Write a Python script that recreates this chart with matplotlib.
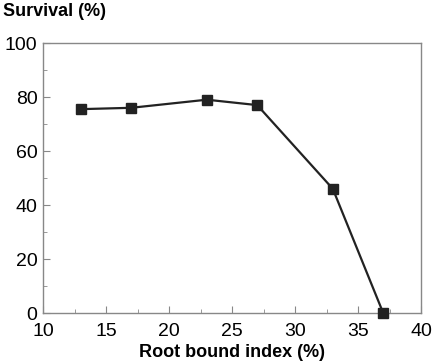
import matplotlib
matplotlib.use('Agg')
import matplotlib.pyplot as plt
from matplotlib.ticker import MultipleLocator

plt.rcParams['font.family'] = ['Liberation Sans', 'DejaVu Sans']

index = [13, 17, 23, 27, 33, 37]      # Root bound index (%)
survival = [75.5, 76, 79, 77, 46, 0]  # Survival (%)

fig = plt.figure(figsize=(4.33, 3.62), dpi=100)
ax = fig.add_axes([43 / 433, 1 - 313 / 362, 378 / 433, 270 / 362])

ax.plot(index, survival, color='#222222', lw=1.6, marker='s', ms=6.5,
        mfc='#222222', mec='#222222', clip_on=False, zorder=3)

ax.set_xlim(10, 40)
ax.set_ylim(0, 100)
ax.xaxis.set_major_locator(MultipleLocator(5))
ax.xaxis.set_minor_locator(MultipleLocator(2.5))
ax.yaxis.set_major_locator(MultipleLocator(20))
ax.yaxis.set_minor_locator(MultipleLocator(10))
ax.tick_params(which='both', direction='in', color='#888888', labelsize=14)
ax.tick_params(axis='x', pad=7)
ax.tick_params(axis='y', pad=4)
ax.tick_params(which='major', length=5)
ax.tick_params(which='minor', length=3)
for s in ax.spines.values():
    s.set_color('#888888')
    s.set_linewidth(1.0)

ax.set_xlabel('Root bound index (%)', fontsize=13, fontweight='bold', labelpad=3)
fig.text(3 / 433, 1 - 12 / 362, 'Survival (%)', fontsize=13, fontweight='bold',
         ha='left', va='center')

fig.savefig('out.png', dpi=100)
